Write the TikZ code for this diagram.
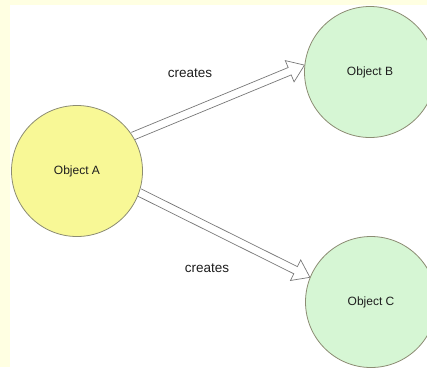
\documentclass[tikz,border=0pt]{standalone}
\usepackage{fontspec}
\setmainfont{Liberation Sans}
\usetikzlibrary{calc}
\pgfdeclarelayer{canvas}
\pgfdeclarelayer{under}
\pgfsetlayers{canvas,under,main}
\definecolor{bgyellow}{RGB}{255,255,226}
\definecolor{fillA}{RGB}{248,248,150}
\definecolor{fillG}{RGB}{214,246,212}
\definecolor{edgeC}{RGB}{140,140,115}
\definecolor{arrowC}{RGB}{120,120,120}
\definecolor{txtC}{RGB}{30,30,30}
\tikzset{
  obj/.style={circle, draw=edgeC, line width=0.8pt, minimum size=131pt, inner sep=0pt,
    font=\fontsize{12}{14}\selectfont, text=txtC},
  lbl/.style={font=\fontsize{13.5}{15}\selectfont, text=txtC},
  blockarr/.style={draw=arrowC, line width=0.7pt, fill=white, line join=miter}
}
\newcommand{\blockarrow}[2]{%
  \coordinate (bs) at #1;
  \coordinate (be) at #2;
  \coordinate (bh) at ($(be)!16pt!(bs)$);
  \draw[blockarr] ($(bs)!4pt!90:(be)$) -- ($(bh)!4pt!90:(be)$) -- ($(bh)!11.5pt!90:(be)$) -- (be)
     -- ($(bh)!11.5pt!-90:(be)$) -- ($(bh)!4pt!-90:(be)$) -- ($(bs)!4pt!-90:(be)$);
}
\begin{document}
\begin{tikzpicture}[x=1pt,y=-1pt]
  \useasboundingbox (0,0) rectangle (427,367);
  \begin{pgfonlayer}{canvas}
    \fill[bgyellow] (0,0) rectangle (427,367);
    \fill[white] (9.5,5) rectangle (427,367);
  \end{pgfonlayer}
  \node[obj, fill=fillA] (A) at (77,171) {Object A};
  \node[obj, fill=fillG] (B) at (370,72) {Object B};
  \node[obj, fill=fillG] (C) at (371,302) {Object C};
  \begin{pgfonlayer}{under}
    \blockarrow{(A.32)}{(B.174)}
    \blockarrow{(A.-19)}{(C.158)}
  \end{pgfonlayer}
  \node[lbl] (l1) at (190,73) {creates};
  \node[lbl] (l2) at (207,268) {creates};
\end{tikzpicture}
\end{document}
